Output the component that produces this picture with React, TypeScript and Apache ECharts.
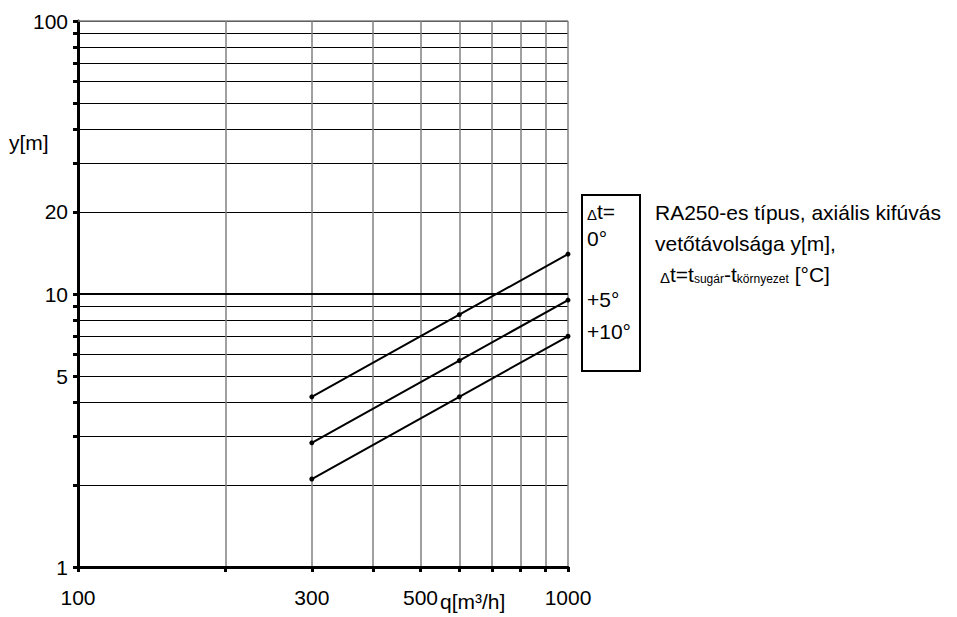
import React, { useEffect, useRef } from 'react';
import * as echarts from 'echarts';

const flowQ = [300, 600, 1000];
const throwDt0 = [4.2, 8.4, 14.0];
const throwDt5 = [2.85, 5.7, 9.5];
const throwDt10 = [2.1, 4.2, 7.0];
const seriesNames = ['0°', '+5°', '+10°'];

const xGridValues = [100, 200, 300, 400, 500, 600, 700, 800, 900, 1000];
const xLabelValues = [100, 300, 500, 1000];
const yGridValues = [1, 2, 3, 4, 5, 6, 7, 8, 9, 10, 20, 30, 40, 50, 60, 70, 80, 90, 100];
const yLabelValues = [1, 5, 10, 20, 100];

const FONT = "'Liberation Sans', Arial, sans-serif";
const FS = 21;

export default function App() {
  const ref = useRef<HTMLDivElement>(null);
  useEffect(() => {
    if (!ref.current) return;
    const chart = echarts.init(ref.current, null, { renderer: 'svg' });
    const allSeries = [throwDt0, throwDt5, throwDt10];
    const option: any = {
      animation: false,
      backgroundColor: '#fff',
      textStyle: { fontFamily: FONT },
      grid: { left: 78, right: 389, top: 21, bottom: 50, containLabel: false },
      xAxis: {
        type: 'log',
        logBase: 10,
        min: 100,
        max: 1000,
        axisLine: { show: true, onZero: false, lineStyle: { color: '#000', width: 3 } },
        axisTick: { show: true, customValues: xGridValues, length: 5, lineStyle: { color: '#000', width: 3 } },
        axisLabel: { customValues: xLabelValues, fontSize: FS, color: '#000', fontFamily: FONT, margin: 20, formatter: (v: number) => String(Math.round(v)) },
        splitLine: { show: true, lineStyle: { color: '#808080', width: 1.5 } },
      },
      yAxis: {
        type: 'log',
        logBase: 10,
        min: 1,
        max: 100,
        axisLine: { show: true, onZero: false, lineStyle: { color: '#000', width: 3 } },
        axisTick: { show: true, customValues: yGridValues, length: 5, lineStyle: { color: '#000', width: 3 } },
        axisLabel: { customValues: yLabelValues, fontSize: FS, color: '#000', fontFamily: FONT, margin: 10, formatter: (v: number) => String(Math.round(v)) },
        splitLine: { show: true, lineStyle: { color: '#000', width: 1 } },
      },
      series: allSeries.map((vals, i) => ({
        name: seriesNames[i],
        type: 'line',
        data: flowQ.map((q, j) => [q, vals[j]]),
        symbol: 'circle',
        symbolSize: 5,
        showSymbol: true,
        lineStyle: { color: '#000', width: 2 },
        itemStyle: { color: '#000' },
        z: 5,
        markLine: i === 0 ? {
          silent: true,
          symbol: ['none', 'none'],
          label: { show: false },
          lineStyle: { color: '#000', width: 2, type: 'solid' },
          data: [{ yAxis: 10 }],
        } : i === 1 ? {
          silent: true,
          symbol: ['none', 'none'],
          label: { show: false },
          lineStyle: { color: '#808080', width: 1.5, type: 'solid' },
          data: [{ yAxis: 100 }],
        } : undefined,
      })),
      graphic: [
        { type: 'text', x: 9, y: 142, style: { text: 'y[m]', fontSize: FS, fontFamily: FONT, fill: '#000', verticalAlign: 'middle' } },
        { type: 'text', x: 440, y: 601, style: { text: 'q[m³/h]', fontSize: FS, fontFamily: FONT, fill: '#000', verticalAlign: 'middle' } },
        { type: 'rect', shape: { x: 582, y: 195, width: 58, height: 176 }, style: { fill: 'none', stroke: '#000', lineWidth: 2 } },
        {
          type: 'text', x: 587, y: 211,
          style: {
            text: '{d|Δ}{m|t=}',
            verticalAlign: 'middle',
            rich: {
              d: { fontSize: 15, fontFamily: FONT, fill: '#000', verticalAlign: 'bottom', lineHeight: 18 },
              m: { fontSize: FS, fontFamily: FONT, fill: '#000', lineHeight: 22 },
            },
          },
        },
        { type: 'text', x: 587, y: 238, style: { text: seriesNames[0], fontSize: FS, fontFamily: FONT, fill: '#000', verticalAlign: 'middle' } },
        { type: 'text', x: 587, y: 299, style: { text: seriesNames[1], fontSize: FS, fontFamily: FONT, fill: '#000', verticalAlign: 'middle' } },
        { type: 'text', x: 587, y: 331, style: { text: seriesNames[2], fontSize: FS, fontFamily: FONT, fill: '#000', verticalAlign: 'middle' } },
        { type: 'text', x: 655, y: 212, style: { text: 'RA250-es típus, axiális kifúvás', fontSize: FS, fontFamily: FONT, fill: '#000', verticalAlign: 'middle' } },
        { type: 'text', x: 655, y: 243, style: { text: 'vetőtávolsága y[m],', fontSize: FS, fontFamily: FONT, fill: '#000', verticalAlign: 'middle' } },
        {
          type: 'text', x: 660, y: 274,
          style: {
            text: '{d|Δ}{m|t=t}{s|sugár}{m|-t}{s|környezet}{m| [°C]}',
            verticalAlign: 'middle',
            rich: {
              d: { fontSize: 15, fontFamily: FONT, fill: '#000', verticalAlign: 'bottom', lineHeight: 18 },
              m: { fontSize: FS, fontFamily: FONT, fill: '#000', lineHeight: 22 },
              s: { fontSize: 12, fontFamily: FONT, fill: '#000', verticalAlign: 'bottom', lineHeight: 8 },
            },
          },
        },
      ],
    };
    chart.setOption(option);
    return () => chart.dispose();
  }, []);
  return <div ref={ref} style={{ position: 'fixed', left: 0, top: 0, width: 957, height: 617 }} />;
}
